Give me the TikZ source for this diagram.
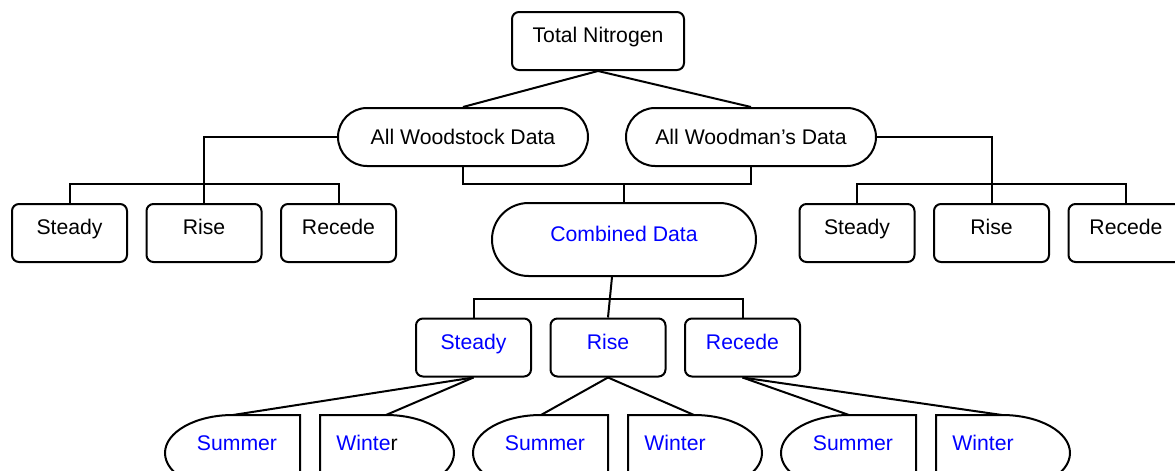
\documentclass[tikz,border=0pt]{standalone}
\usepackage{fontspec}
\setmainfont{Liberation Sans}
\usetikzlibrary{positioning,shapes.misc,calc}
\tikzset{
  box/.style={draw, rounded corners=3.5pt, minimum width=57.5pt, minimum height=29pt, inner sep=0pt, text height=8pt, text depth=6.4pt},
  head/.style={box, minimum width=86pt},
  pill/.style={draw, rounded rectangle, minimum width=125pt, minimum height=29pt, inner sep=0pt},
  merged/.style={pill, minimum width=132pt, minimum height=36.5pt, text height=8pt, text depth=6.4pt},
  blu/.style={text=blue},
  season/.style={inner sep=0pt, text=blue},
}

\begin{document}
\begin{tikzpicture}[x=0.5pt, y=-0.5pt, line width=1pt, node distance=8.75pt, font=\fontsize{10.6pt}{12pt}\selectfont]
\useasboundingbox (0,0) rectangle (1175,471);

\node (tn)  [head] at (598,41) {Total Nitrogen};
\node (wst) [pill] at (463,137) {All Woodstock Data};
\node (wmn) [pill] at (751,137) {All Woodman’s Data};

% Woodstock side
\node (lst) [box] at (69.5,233) {Steady};
\node (lri) [box, right=of lst] {Rise};
\node (lrc) [box, right=of lri] {Recede};

% Woodman's side
\node (rst) [box] at (857,233) {Steady};
\node (rri) [box, right=of rst] {Rise};
\node (rrc) [box, right=of rri] {Recede};

% combined data
\node (cmb) [merged, blu] at (624,239.5) {Combined Data};
\node (bst) [box, blu] at (473.5,347.5) {Steady};
\node (bri) [box, blu, right=of bst] {Rise};
\node (brc) [box, blu, right=of bri] {Recede};

% seasons
\node (su1) [season] at (237,443) {Summer};
\node (wi1) [season] at (367,443) {Winte\textcolor{black}{r}};
\node (su2) [season] at (545,443) {Summer};
\node (wi2) [season] at (675,443) {Winter};
\node (su3) [season] at (853,443) {Summer};
\node (wi3) [season] at (983,443) {Winter};

\coordinate (su1t) at (233,415);
\coordinate (wi1t) at (386,415);
\draw (300,480) -- (300,415) -- (su1t) arc[start angle=270, end angle=90, x radius=68, y radius=38];
\draw (320,480) -- (320,415) -- (wi1t) arc[start angle=-90, end angle=90, x radius=68, y radius=38];

\coordinate (su2t) at (541,415);
\coordinate (wi2t) at (694,415);
\draw (608,480) -- (608,415) -- (su2t) arc[start angle=270, end angle=90, x radius=68, y radius=38];
\draw (628,480) -- (628,415) -- (wi2t) arc[start angle=-90, end angle=90, x radius=68, y radius=38];

\coordinate (su3t) at (849,415);
\coordinate (wi3t) at (1002,415);
\draw (916,480) -- (916,415) -- (su3t) arc[start angle=270, end angle=90, x radius=68, y radius=38];
\draw (936,480) -- (936,415) -- (wi3t) arc[start angle=-90, end angle=90, x radius=68, y radius=38];

% top of the tree
\draw (tn.south) -- (wst.north);
\draw (tn.south) -- (wmn.north);

% side branches
\draw (wst.west) -| (lri.north);
\draw (lst.north) -- ++(0,-19) -| (lrc.north);
\draw (wmn.east) -| (rri.north);
\draw (rst.north) -- ++(0,-19) -| (rrc.north);

% merge
\coordinate (join) at (624,184);
\draw (wst.south) |- (join) -| (wmn.south);
\draw (join) -- (cmb.north);
\draw (bst.north) -- ++(0,-19) -| (brc.north);
\draw ($(cmb.south)+(-12,0)$) -- (bri.north);

% down to seasons
\draw (bst.south) -- (su1t);
\draw (bst.south) -- (wi1t);
\draw (bri.south) -- (su2t);
\draw (bri.south) -- (wi2t);
\draw (brc.south) -- (su3t);
\draw (brc.south) -- (wi3t);
\end{tikzpicture}
\end{document}
